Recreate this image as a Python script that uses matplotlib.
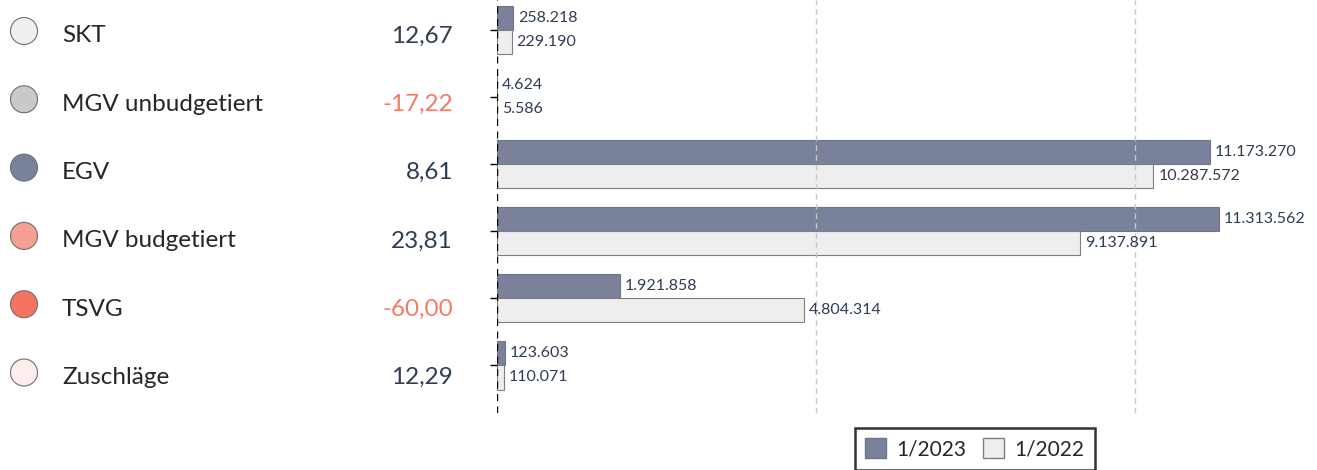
import matplotlib
matplotlib.use("Agg")
import matplotlib.pyplot as plt
from matplotlib.patches import Patch, Ellipse
import numpy as np

plt.rcParams['font.family'] = ['Lato', 'DejaVu Sans']

# Daten
kategorien = ['SKT', 'MGV unbudgetiert', 'EGV', 'MGV budgetiert', 'TSVG', 'Zuschläge']
veraenderung = [12.67, -17.22, 8.61, 23.81, -60.00, 12.29]
werte_2023 = [258218, 4624, 11173270, 11313562, 1921858, 123603]
werte_2022 = [229190, 5586, 10287572, 9137891, 4804314, 110071]
punkt_farben = ['#eeeff1', '#c9c9c9', '#79829a', '#f4a193', '#f47461', '#fdeeed']

dunkel = '#79829a'
hell = '#eeeeef'
text_dunkel = '#2f3d52'
text_rot = '#f47a66'

W, H = 1317, 470

def fmt(v):
    return f"{v:,}".replace(',', '.')

def fmt_pct(v):
    return f"{v:.2f}".replace('.', ',')

fig = plt.figure(figsize=(W/100, H/100), dpi=100)
ax = fig.add_axes([497/W, 1 - 413/H, (W-497)/W, 413/H])

y = np.arange(len(kategorien))
h = 0.36
ax.barh(y - h/2, werte_2023, height=h, color=dunkel, edgecolor='#6d7588', linewidth=0.8, label='1/2023')
ax.barh(y + h/2, werte_2022, height=h, color=hell, edgecolor='#7f7f7f', linewidth=0.8, label='1/2022')

for i in range(len(kategorien)):
    ax.text(werte_2023[i] + 75000, y[i] - h/2, fmt(werte_2023[i]), va='center', ha='left',
            fontsize=11.5, color=text_dunkel)
    ax.text(werte_2022[i] + 75000, y[i] + h/2, fmt(werte_2022[i]), va='center', ha='left',
            fontsize=11.5, color=text_dunkel)

ax.set_xlim(0, 12.85e6)
ax.set_ylim(5.71, -0.445)
for gx in [5e6, 10e6]:
    ax.axvline(gx, color='#c8c8c8', linestyle=(0, (4, 3)), linewidth=1)
ax.axvline(0, color='black', linestyle=(0, (5, 4)), linewidth=1)

for s in ax.spines.values():
    s.set_visible(False)
ax.set_xticks([])
ax.set_yticks(y)
ax.set_yticklabels([])
ax.tick_params(axis='y', length=5, width=1, color='black', direction='out')

# linke Spalte (eigener Zeilenabstand, in Pixeln)
for i, k in enumerate(kategorien):
    zy = 34 + 68.3 * i
    fig.add_artist(Ellipse((24/W, 1 - (zy - 3)/H), 27/W, 27/H, transform=fig.transFigure,
                           facecolor=punkt_farben[i], edgecolor='#6f6f6f', linewidth=0.8))
    fig.text(62/W, 1 - (zy + 8.5)/H, k, ha='left', va='baseline', fontsize=17.5, color='#262626')
    farbe = text_rot if veraenderung[i] < 0 else text_dunkel
    fig.text(453/W, 1 - (zy + 8.5)/H, fmt_pct(veraenderung[i]), ha='right', va='baseline',
             fontsize=17.5, color=farbe)

leg = fig.legend(handles=[Patch(facecolor=dunkel, edgecolor='#6d7588', label='1/2023'),
                          Patch(facecolor=hell, edgecolor='#7f7f7f', label='1/2022')],
                 loc='center', bbox_to_anchor=(975/W, 1 - 449/H), ncol=2, fontsize=15,
                 frameon=True, fancybox=False, handlelength=1.0, handleheight=1.1,
                 handletextpad=0.5, columnspacing=0.8, borderpad=0.5)
leg.get_frame().set_edgecolor('black')
leg.get_frame().set_linewidth(1.8)
for t in leg.get_texts():
    t.set_color('#262626')

fig.savefig('out.png', dpi=100)
